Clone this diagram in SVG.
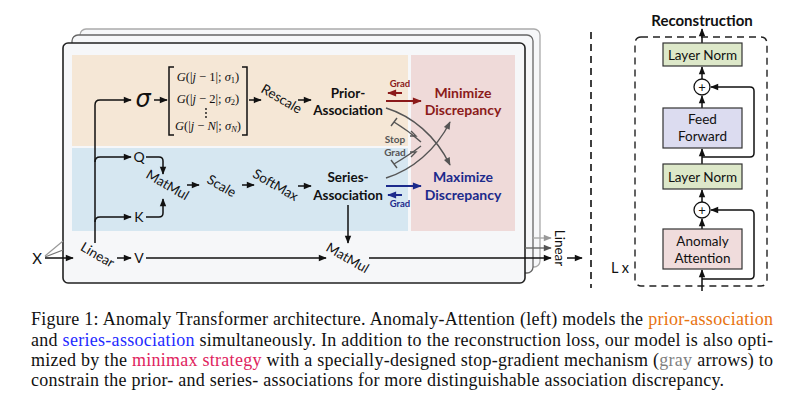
<svg xmlns="http://www.w3.org/2000/svg" width="796" height="400" viewBox="0 0 796 400">
<defs>
<style>
.lbl{font-family:Lato,"Open Sans","Liberation Sans",sans-serif;fill:#111}
.bold{font-weight:700}
.rot{font-family:Lato,"Open Sans","Liberation Sans",sans-serif;font-size:13.5px;fill:#111}
.m{font-family:"Liberation Serif","Times New Roman",serif;font-size:12.5px;fill:#111}
.it{font-style:italic}
.ln{fill:none;stroke:#111;stroke-width:1.5}
.gr{fill:none;stroke:#555;stroke-width:1.4}
.cap{font-family:"Liberation Serif","Times New Roman",serif;font-size:18px;fill:#111}
.box{stroke:#333;stroke-width:1.2}
</style>
<marker id="ah" viewBox="0 0 10 10" refX="9" refY="5" markerWidth="9" markerHeight="8" orient="auto" markerUnits="userSpaceOnUse"><path d="M0,1 L10,5 L0,9 z" fill="#111"/></marker>
<marker id="ahg" viewBox="0 0 10 10" refX="9" refY="5" markerWidth="9" markerHeight="8" orient="auto" markerUnits="userSpaceOnUse"><path d="M0,1 L10,5 L0,9 z" fill="#555"/></marker>
<marker id="ahl" viewBox="0 0 10 10" refX="9" refY="5" markerWidth="9" markerHeight="8" orient="auto" markerUnits="userSpaceOnUse"><path d="M0,1 L10,5 L0,9 z" fill="#999"/></marker>
<marker id="ahr" viewBox="0 0 10 10" refX="9" refY="5" markerWidth="10" markerHeight="9" orient="auto" markerUnits="userSpaceOnUse"><path d="M0,1 L10,5 L0,9 z" fill="#8b1a1a"/></marker>
<marker id="ahb" viewBox="0 0 10 10" refX="9" refY="5" markerWidth="10" markerHeight="9" orient="auto" markerUnits="userSpaceOnUse"><path d="M0,1 L10,5 L0,9 z" fill="#1c2a8c"/></marker>
</defs>
<rect width="796" height="400" fill="#fff"/>

<g id="frames">
<rect x="80" y="29" width="460" height="238" rx="6" fill="#f6f7f9" stroke="#aaa" stroke-width="1.3"/>
<rect x="72" y="35" width="461" height="238" rx="6" fill="#f6f7f9" stroke="#666" stroke-width="1.3"/>
<rect x="63" y="43" width="462" height="240" rx="5" fill="#f6f7f9" stroke="#222" stroke-width="1.6"/>
<rect x="72" y="55" width="336" height="91" fill="#f5e7d6"/>
<rect x="72" y="148" width="336" height="83" fill="#d6e7f1"/>
<rect x="411" y="55" width="104" height="176" fill="#efdad9"/>
</g>

<g id="connectors">
<path d="M45,256 L63,241" stroke="#999" stroke-width="1.2" fill="none"/>
<path d="M45,257 L63,250" stroke="#777" stroke-width="1.2" fill="none"/>
<path d="M45,258 L73,258" class="ln" marker-end="url(#ah)"/>
<path d="M95,243 L95,105 Q95,100 100,100 L131,100" class="ln" marker-end="url(#ah)"/>
<path d="M95,162 Q95,157 100,157 L131,157" class="ln" marker-end="url(#ah)"/>
<path d="M95,222 Q95,217 100,217 L131,217" class="ln" marker-end="url(#ah)"/>
<path d="M146,157 L159,157 Q163,157 163,161 L163,174" class="ln" marker-end="url(#ah)"/>
<path d="M146,217 L159,217 Q163,217 163,213 L163,199" class="ln" marker-end="url(#ah)"/>
<path d="M154,100 L167,100" class="ln" marker-end="url(#ah)"/>
<path d="M249,100 L261,100" class="ln" marker-end="url(#ah)"/>
<path d="M298,100 L311,100" class="ln" marker-end="url(#ah)"/>
<path d="M187,185 L199,185" class="ln" marker-end="url(#ah)"/>
<path d="M242,185 L254,185" class="ln" marker-end="url(#ah)"/>
<path d="M298,186 L311,186" class="ln" marker-end="url(#ah)"/>
<path d="M348,205 L348,243" class="ln" marker-end="url(#ah)"/>
<path d="M117,258 L131,258" class="ln" marker-end="url(#ah)"/>
<path d="M146,258 L326,258" class="ln" marker-end="url(#ah)"/>
<path d="M369,258 L551,258" class="ln" marker-end="url(#ah)"/>
<path d="M533,238 L551,238" stroke="#aaa" stroke-width="1.4" fill="none" marker-end="url(#ahl)"/>
<path d="M525,248 L551,248" stroke="#666" stroke-width="1.4" fill="none" marker-end="url(#ahg)"/>
<path d="M567,258 L582,258" class="ln" marker-end="url(#ah)"/>
<path d="M386,101 L421,101" stroke="#8b1a1a" stroke-width="2" fill="none" marker-end="url(#ahr)"/>
<path d="M402,93 L388,93" stroke="#8b1a1a" stroke-width="1.8" stroke-dasharray="6,4" fill="none" marker-end="url(#ahr)"/>
<path d="M386,186 L421,186" stroke="#1c2a8c" stroke-width="2" fill="none" marker-end="url(#ahb)"/>
<path d="M402,195 L388,195" stroke="#1c2a8c" stroke-width="1.8" stroke-dasharray="6,4" fill="none" marker-end="url(#ahb)"/>
<path d="M386,108 C412,116 436,136 450,165" class="gr" marker-end="url(#ahg)"/>
<path d="M386,178 C412,170 436,150 450,122" class="gr" marker-end="url(#ahg)"/>
<path d="M421,142 C412,134 404,128 394,122" class="gr"/>
<path d="M391,126 L397,118" class="gr"/>
<path d="M411,131 L416,136 L410,136" class="gr"/>
<path d="M421,146 C412,153 404,158 394,164" class="gr"/>
<path d="M391,160 L397,168" class="gr"/>
<path d="M411,157 L416,152 L410,152" class="gr"/>
<path d="M591,32 L591,288" stroke="#111" stroke-width="1.6" stroke-dasharray="7,5" fill="none"/>
<rect x="635" y="37" width="132" height="249" rx="6" fill="none" stroke="#222" stroke-width="1.4" stroke-dasharray="7,5"/>
<path d="M702,43 L702,29" class="ln" marker-end="url(#ah)"/>
<path d="M702,79 L702,67" class="ln" marker-end="url(#ah)"/>
<path d="M702,108 L702,96" class="ln" marker-end="url(#ah)"/>
<path d="M702,157 L750,157 Q754,157 754,153 L754,91 Q754,87 750,87 L711,87" class="ln" marker-end="url(#ah)"/>
<path d="M702,164 L702,149" class="ln" marker-end="url(#ah)"/>
<path d="M702,202 L702,190" class="ln" marker-end="url(#ah)"/>
<path d="M702,229 L702,219" class="ln" marker-end="url(#ah)"/>
<path d="M702,279 L750,279 Q754,279 754,275 L754,214 Q754,210 750,210 L711,210" class="ln" marker-end="url(#ah)"/>
<path d="M702,291 L702,270" class="ln" marker-end="url(#ah)"/>
</g>

<g id="x-input"><text x="37" y="264" class="lbl" font-size="15" text-anchor="middle">X</text></g>
<g id="linear-in"><text transform="translate(97,256) rotate(30)" class="rot" text-anchor="middle" dominant-baseline="middle">Linear</text></g>
<g id="sigma"><text x="143" y="107" font-family="'DejaVu Sans',sans-serif" font-size="24" font-style="italic" text-anchor="middle" fill="#111">σ</text></g>
<g id="gauss-matrix">
<path d="M174,67 L169,67 L169,135 L174,135" class="ln"/>
<path d="M242,67 L247,67 L247,135 L242,135" class="ln"/>
<text x="208" y="81" class="m" text-anchor="middle"><tspan class="it">G</tspan>(|<tspan class="it">j</tspan> − 1|; <tspan class="it">σ</tspan><tspan font-size="8.5" dy="2">1</tspan><tspan dy="-2">)</tspan></text>
<text x="208" y="103" class="m" text-anchor="middle"><tspan class="it">G</tspan>(|<tspan class="it">j</tspan> − 2|; <tspan class="it">σ</tspan><tspan font-size="8.5" dy="2">2</tspan><tspan dy="-2">)</tspan></text>
<circle cx="206" cy="109" r="0.9" fill="#111"/><circle cx="206" cy="113" r="0.9" fill="#111"/><circle cx="206" cy="117" r="0.9" fill="#111"/>
<text x="208" y="130" class="m" text-anchor="middle"><tspan class="it">G</tspan>(|<tspan class="it">j</tspan> − <tspan class="it">N</tspan>|; <tspan class="it">σ</tspan><tspan font-size="8.5" dy="2" class="it">N</tspan><tspan dy="-2">)</tspan></text>
</g>
<g id="rescale"><text transform="translate(281,100) rotate(30)" class="rot" text-anchor="middle" dominant-baseline="middle">Rescale</text></g>
<g id="prior-association"><text x="348" y="98" class="lbl bold" font-size="13.5" text-anchor="middle">Prior-</text><text x="348" y="115" class="lbl bold" font-size="13.5" text-anchor="middle">Association</text></g>
<g id="grad-top"><text x="400" y="87" class="lbl bold" font-size="9.5" style="fill:#8b1a1a" text-anchor="middle">Grad</text></g>
<g id="minimize"><text x="463" y="98" class="lbl bold" font-size="14" style="fill:#8b1a1a" text-anchor="middle">Minimize</text><text x="463" y="115" class="lbl bold" font-size="14" style="fill:#8b1a1a" text-anchor="middle">Discrepancy</text></g>
<g id="stop-grad"><text x="395" y="143" class="lbl bold" font-size="10" style="fill:#555" text-anchor="middle">Stop</text><text x="395" y="156" class="lbl bold" font-size="10" style="fill:#555" text-anchor="middle">Grad</text></g>
<g id="q"><text x="139" y="162" class="lbl" font-size="14" text-anchor="middle">Q</text></g>
<g id="k"><text x="139" y="222" class="lbl" font-size="14" text-anchor="middle">K</text></g>
<g id="v"><text x="139" y="263" class="lbl" font-size="14" text-anchor="middle">V</text></g>
<g id="matmul1"><text transform="translate(167,186) rotate(30)" class="rot" text-anchor="middle" dominant-baseline="middle">MatMul</text></g>
<g id="scale"><text transform="translate(221,187) rotate(30)" class="rot" text-anchor="middle" dominant-baseline="middle">Scale</text></g>
<g id="softmax"><text transform="translate(275,186) rotate(30)" class="rot" text-anchor="middle" dominant-baseline="middle">SoftMax</text></g>
<g id="series-association"><text x="348" y="182" class="lbl bold" font-size="13.5" text-anchor="middle">Series-</text><text x="348" y="200" class="lbl bold" font-size="13.5" text-anchor="middle">Association</text></g>
<g id="grad-bottom"><text x="400" y="207" class="lbl bold" font-size="9.5" style="fill:#1c2a8c" text-anchor="middle">Grad</text></g>
<g id="maximize"><text x="463" y="182" class="lbl bold" font-size="14" style="fill:#1c2a8c" text-anchor="middle">Maximize</text><text x="463" y="200" class="lbl bold" font-size="14" style="fill:#1c2a8c" text-anchor="middle">Discrepancy</text></g>
<g id="matmul2"><text transform="translate(347,259) rotate(30)" class="rot" text-anchor="middle" dominant-baseline="middle">MatMul</text></g>
<g id="linear-out"><text transform="translate(558,248) rotate(90)" class="rot" text-anchor="middle" dominant-baseline="middle">Linear</text></g>

<g id="reconstruction"><text x="702" y="26" class="lbl bold" font-size="15" text-anchor="middle">Reconstruction</text></g>
<g id="layernorm-top"><rect x="663" y="43" width="79" height="23" fill="#dde8c9" class="box"/><text x="702.5" y="59.5" class="lbl" font-size="13.5" text-anchor="middle">Layer Norm</text></g>
<g id="add-top"><circle cx="702" cy="87" r="8" fill="#fff" stroke="#111" stroke-width="1.3"/><text x="702" y="91.5" class="lbl" font-size="13" text-anchor="middle">+</text></g>
<g id="feed-forward"><rect x="663" y="108" width="79" height="40" fill="#dcdcf0" class="box"/><text x="702.5" y="124" class="lbl" font-size="13.5" text-anchor="middle">Feed</text><text x="702.5" y="141" class="lbl" font-size="13.5" text-anchor="middle">Forward</text></g>
<g id="layernorm-bottom"><rect x="663" y="164" width="79" height="25" fill="#dde8c9" class="box"/><text x="702.5" y="181.5" class="lbl" font-size="13.5" text-anchor="middle">Layer Norm</text></g>
<g id="add-bottom"><circle cx="702" cy="210" r="8" fill="#fff" stroke="#111" stroke-width="1.3"/><text x="702" y="214.5" class="lbl" font-size="13" text-anchor="middle">+</text></g>
<g id="anomaly-attention"><rect x="663" y="229" width="79" height="40" fill="#f0dcdc" class="box"/><text x="702.5" y="246" class="lbl" font-size="13.5" text-anchor="middle">Anomaly</text><text x="702.5" y="263" class="lbl" font-size="13.5" text-anchor="middle">Attention</text></g>
<g id="lx"><text x="620" y="273" class="lbl" font-size="14.5" text-anchor="middle">L x</text></g>

<g id="caption">
<text x="31" y="325" class="cap" textLength="742" lengthAdjust="spacing">Figure 1: Anomaly Transformer architecture. Anomaly-Attention (left) models the <tspan fill="#e8730f">prior-association</tspan></text>
<text x="31" y="346" class="cap" textLength="742" lengthAdjust="spacing">and <tspan fill="#1f2bff">series-association</tspan> simultaneously. In addition to the reconstruction loss, our model is also opti-</text>
<text x="31" y="366" class="cap" textLength="742" lengthAdjust="spacing">mized by the <tspan fill="#e0245e">minimax strategy</tspan> with a specially-designed stop-gradient mechanism (<tspan fill="#7f7f7f">gray</tspan> arrows) to</text>
<text x="31" y="386" class="cap" textLength="693" lengthAdjust="spacing">constrain the prior- and series- associations for more distinguishable association discrepancy.</text>
</g>
</svg>
